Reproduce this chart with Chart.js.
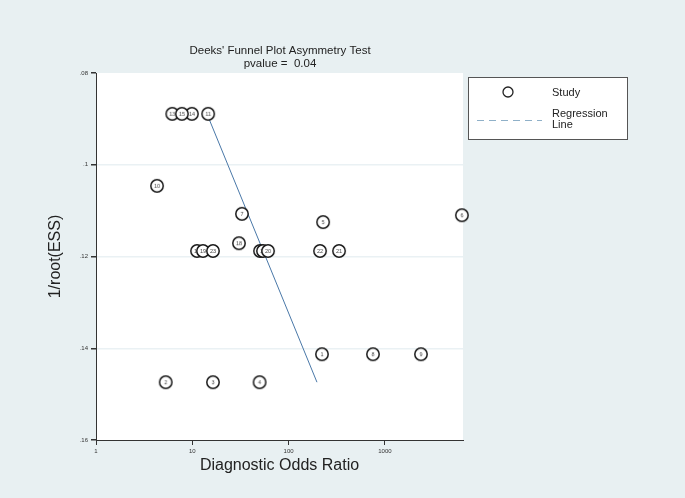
<!DOCTYPE html>
<html lang="en">
<head>
  <meta charset="UTF-8" />
  <title>Deeks' Funnel Plot Asymmetry Test</title>
  <script src="https://cdn.jsdelivr.net/npm/chart.js"></script>
  <style>
    html, body { margin: 0; padding: 0; background: #e8f0f2; }
    #wrap { position: relative; width: 685px; height: 498px; }
  </style>
</head>
<body>
  <div id="wrap"><canvas id="chart" width="685" height="498"></canvas></div>

  <script>
    // study number, diagnostic odds ratio, 1/root(ESS)
    const studies = ["1", "2", "3", "4", "5", "6", "7", "8", "9", "10", "11", "12",
                     "13", "14", "15", "16", "17", "18", "19", "20", "21", "22", "23"];
    const dor = [222, 5.3, 16.4, 50, 228, 6300, 32.8, 752, 2370, 4.3, 14.6, 11.2,
                 6.2, 9.9, 7.8, 50.5, 54.2, 30.5, 12.9, 61.1, 334, 212, 16.4];
    const invRootEss = [0.1413, 0.1474, 0.1474, 0.1474, 0.1125, 0.1110, 0.1107, 0.1413, 0.1413, 0.1046, 0.0889, 0.1188,
                        0.0889, 0.0889, 0.0889, 0.1188, 0.1188, 0.1171, 0.1188, 0.1188, 0.1188, 0.1188, 0.1188];

    // regression line ends
    const lineX = [14.2, 197];
    const lineY = [0.0889, 0.1474];

    const xTicks = [1, 10, 100, 1000];
    const yTicks = [0.08, 0.10, 0.12, 0.14, 0.16];

    const FONT = "'Liberation Sans', Arial, Helvetica, sans-serif";

    // little circle with the study number in it, used as the point style
    function marker(label) {
      const c = document.createElement('canvas');
      c.width = 16; c.height = 16;
      const g = c.getContext('2d');
      g.beginPath();
      g.arc(8, 8, 6.2, 0, Math.PI * 2);
      g.fillStyle = '#fff';
      g.fill();
      g.lineWidth = 1.5;
      g.strokeStyle = '#1a1a1a';
      g.stroke();
      g.fillStyle = '#444';
      g.font = '5.5px ' + FONT;
      g.textAlign = 'center';
      g.textBaseline = 'middle';
      g.fillText(label, 8, 8.5);
      return c;
    }
    const markers = studies.map(marker);

    const decor = {
      id: 'decor',
      beforeDraw(chart) {
        const { ctx, chartArea: a } = chart;
        ctx.save();
        ctx.fillStyle = '#e8f0f2';
        ctx.fillRect(0, 0, chart.width, chart.height);
        ctx.fillStyle = '#fff';
        ctx.fillRect(a.left, a.top, a.right - a.left, a.bottom - a.top);
        ctx.restore();
      },
      afterDraw(chart) {
        const { ctx, chartArea: a } = chart;
        ctx.save();
        ctx.fillStyle = '#222';
        ctx.textAlign = 'center';
        ctx.textBaseline = 'middle';
        ctx.font = '11.5px ' + FONT;
        ctx.fillText("Deeks' Funnel Plot Asymmetry Test", 280, 51);
        ctx.fillText('pvalue =  0.04', 280, 64);

        ctx.font = '16px ' + FONT;
        ctx.fillText('Diagnostic Odds Ratio', (a.left + a.right) / 2, 466);
        ctx.translate(56, (a.top + a.bottom) / 2);
        ctx.rotate(-Math.PI / 2);
        ctx.fillText('1/root(ESS)', 0, 0);
        ctx.restore();

        // legend box
        ctx.save();
        ctx.fillStyle = '#fff';
        ctx.fillRect(468.5, 77.5, 159, 62);
        ctx.strokeStyle = '#555';
        ctx.lineWidth = 1;
        ctx.strokeRect(468.5, 77.5, 159, 62);
        ctx.beginPath();
        ctx.arc(508, 92, 5, 0, Math.PI * 2);
        ctx.lineWidth = 1.3;
        ctx.strokeStyle = '#222';
        ctx.stroke();
        ctx.beginPath();
        ctx.setLineDash([7, 5]);
        ctx.moveTo(477, 120.5);
        ctx.lineTo(542, 120.5);
        ctx.lineWidth = 1;
        ctx.strokeStyle = '#8fb0c8';
        ctx.stroke();
        ctx.fillStyle = '#222';
        ctx.font = '11px ' + FONT;
        ctx.textBaseline = 'middle';
        ctx.fillText('Study', 552, 93);
        ctx.fillText('Regression', 552, 114);
        ctx.fillText('Line', 552, 125);
        ctx.restore();
      }
    };

    new Chart(document.getElementById('chart'), {
      type: 'scatter',
      data: {
        datasets: [
          {
            label: 'Study',
            data: dor.map((x, i) => ({ x: x, y: invRootEss[i] })),
            pointStyle: ctx => markers[ctx.dataIndex],
            clip: false,
            order: 1
          },
          {
            label: 'Regression Line',
            type: 'line',
            data: lineX.map((x, i) => ({ x: x, y: lineY[i] })),
            borderColor: '#4a78a8',
            borderWidth: 1,
            pointRadius: 0,
            fill: false,
            order: 2
          }
        ]
      },
      options: {
        responsive: false,
        animation: false,
        events: [],
        layout: { padding: { top: 73, right: 222, left: 0, bottom: 0 } },
        plugins: {
          legend: { display: false },
          title: { display: false },
          tooltip: { enabled: false }
        },
        scales: {
          x: {
            type: 'logarithmic',
            min: 1,
            max: 6470,
            afterBuildTicks: s => { s.ticks = xTicks.map(v => ({ value: v })); },
            afterFit: s => { s.height = 58; },
            border: { color: '#333', width: 1 },
            grid: { drawOnChartArea: false, tickLength: 5, tickColor: '#333' },
            ticks: {
              font: { family: FONT, size: 6 },
              color: '#333',
              padding: 3,
              maxRotation: 0,
              callback: v => String(v)
            }
          },
          y: {
            reverse: true,
            min: 0.08,
            max: 0.16,
            afterBuildTicks: s => { s.ticks = yTicks.map(v => ({ value: v })); },
            afterFit: s => { s.width = 96; },
            border: { color: '#333', width: 1 },
            grid: {
              color: ctx => (ctx.index === 0 || ctx.index === yTicks.length - 1) ? 'rgba(0,0,0,0)' : '#eaf1f4',
              lineWidth: 1.5,
              tickLength: 5,
              tickColor: '#333'
            },
            ticks: {
              font: { family: FONT, size: 6 },
              color: '#333',
              padding: 3,
              callback: v => Number(v).toFixed(2).replace(/^0/, '').replace(/0$/, '')
            }
          }
        }
      },
      plugins: [decor]
    });
  </script>
</body>
</html>
